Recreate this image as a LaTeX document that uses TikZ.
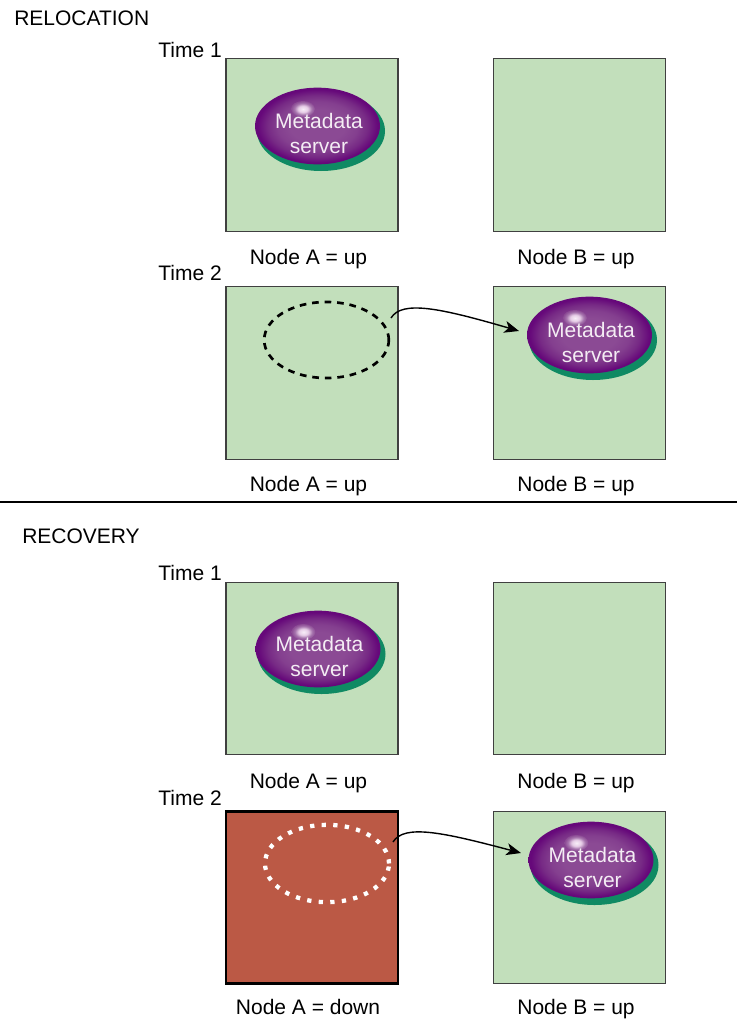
\documentclass[tikz,border=0pt]{standalone}
\usepackage{fontspec}
\setmainfont{Liberation Sans}
\usetikzlibrary{shapes.geometric,arrows.meta}
\definecolor{boxgreen}{HTML}{C2DFBB}
\definecolor{boxred}{HTML}{BB5945}
\definecolor{sgreen}{HTML}{0F8A63}
\definecolor{mA}{HTML}{8B4A94}
\definecolor{mB}{HTML}{843F8F}
\definecolor{mC}{HTML}{772A85}
\definecolor{mD}{HTML}{66087A}
\definecolor{gA}{HTML}{F8EEF8}
\definecolor{gB}{HTML}{E6CCE6}
\definecolor{gC}{HTML}{A674AD}
\pgfdeclareradialshading{metashade}{\pgfpointorigin}{
  color(0bp)=(mA);color(11bp)=(mA);color(16bp)=(mB);color(20bp)=(mC);
  color(24bp)=(mD);color(25bp)=(mD);color(50bp)=(mD)}
\pgfdeclareradialshading{glowshade}{\pgfpointorigin}{
  color(0bp)=(gA);color(10bp)=(gB);color(18bp)=(gC);color(25bp)=(mA);color(50bp)=(mA)}
\tikzset{
  x=0.75pt,y=-0.75pt,
  lab/.style={font=\fontsize{15.75pt}{18.75pt}\selectfont,inner sep=0pt,anchor=base,text=black},
  lableft/.style={lab,anchor=base west},
  labright/.style={lab,anchor=base east},
  nodebox/.style={draw=black!75,line width=0.9pt,fill=boxgreen,rectangle,minimum width=129pt,minimum height=129.5pt,inner sep=0pt},
  downbox/.style={draw=black,line width=2.2pt,fill=boxred,rectangle,minimum width=129pt,minimum height=129.5pt,inner sep=0pt},
  shadowell/.style={ellipse,fill=sgreen,minimum width=96pt,minimum height=60pt,inner sep=0pt},
  metaell/.style={ellipse,shading=metashade,minimum width=93.75pt,minimum height=57.5pt,inner sep=0pt},
  glow/.style={ellipse,shading=glowshade,minimum width=18pt,minimum height=12pt,inner sep=0pt},
  metatext/.style={font=\fontsize{15.75pt}{18.75pt}\selectfont,text=white!90!mA,align=center,inner sep=0pt},
  ghost/.style={ellipse,draw=black,line width=2pt,dash pattern=on 5pt off 4.4pt,minimum width=93.5pt,minimum height=57pt,inner sep=0pt},
  ghostw/.style={ellipse,draw=white,line width=3.2pt,dash pattern=on 3.2pt off 5.5pt,minimum width=93pt,minimum height=58pt,inner sep=0pt},
  move/.style={-{Stealth[length=11pt,width=9pt,inset=3pt]},line width=1.05pt,black},
  rulel/.style={line width=0.8pt,black},
}
\newcommand{\metaserver}[3]{% name, x, y (centre of purple ellipse)
  \node[shadowell] (#1s) at (#2+3.5,#3+5) {};
  \node[metaell] (#1) at (#2,#3) {};
  \node[glow] (#1g) at (#2-14.5,#3-17) {};
  \node[metatext] (#1t) at (#2+1.5,#3+7) {Metadata\\server};
}
\begin{document}
\begin{tikzpicture}
\useasboundingbox (0,0) rectangle (737,1021);
% RELOCATION
\node[lableft] (t1) at (14,25) {RELOCATION};
\node[labright] (t2) at (222,57) {Time 1};
\node[nodebox] (a1) at (312,145) {};
\node[nodebox] (b1) at (579.5,145) {};
\metaserver{m1}{317.5}{126}
\node[lab] (la1) at (308.5,264) {Node A = up};
\node[lab] (lb1) at (576,264) {Node B = up};
\node[labright] (t3) at (222,280.5) {Time 2};
\node[nodebox] (a2) at (312,373) {};
\node[nodebox] (b2) at (579.5,373) {};
\node[ghost] (g1) at (326.5,340) {};
\metaserver{m2}{589.5}{335}
\node[lab] (la2) at (308.5,491) {Node A = up};
\node[lab] (lb2) at (576,491) {Node B = up};
\coordinate (s1) at (391,318);
\coordinate (e1) at (519,331);
\draw[move] (s1) .. controls (402,300) and (440,308) .. (e1);
\coordinate (rl) at (0,502);
\coordinate (rr) at (737,502);
\draw[rulel] (rl) -- (rr);
% RECOVERY
\node[lableft] (t4) at (22,543) {RECOVERY};
\node[lab,anchor=base east] (t5) at (222,580) {Time 1};
\node[nodebox] (a3) at (312,668.5) {};
\node[nodebox] (b3) at (579.5,668.5) {};
\metaserver{m3}{318}{649}
\node[lab] (la3) at (308.5,788) {Node A = up};
\node[lab] (lb3) at (576,788) {Node B = up};
\node[labright] (t6) at (222,805) {Time 2};
\node[downbox] (a4) at (312,897.5) {};
\node[nodebox] (b4) at (579.5,897.5) {};
\node[ghostw] (g2) at (327,863.5) {};
\metaserver{m4}{591}{860}
\node[lab] (la4) at (308,1014) {Node A = down};
\node[lab] (lb4) at (576,1014) {Node B = up};
\coordinate (s2) at (393,842);
\coordinate (e2) at (521,853);
\draw[move] (s2) .. controls (404,824) and (442,832) .. (e2);
\end{tikzpicture}
\end{document}
